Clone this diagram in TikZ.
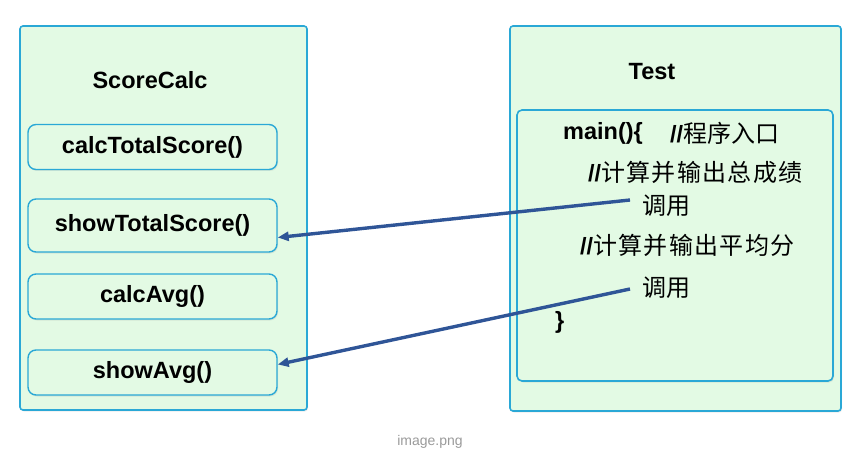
\documentclass[tikz,border=0pt]{standalone}
\usepackage{fontspec}
\setmainfont{Liberation Sans}
\newfontfamily\cjk{Noto Sans CJK SC}
\newfontfamily\cjkwide[LetterSpace=5.5]{Noto Sans CJK SC}
\usepackage{tikz}
\usetikzlibrary{arrows.meta,positioning,shadows}
\definecolor{mint}{HTML}{E3FAE4}
\definecolor{frame}{HTML}{2AA8D6}
\definecolor{callblue}{HTML}{2F5597}
\definecolor{caption}{HTML}{9A9A9A}

\begin{document}
\begin{tikzpicture}[x=1pt,y=-1pt,
  classbox/.style={draw=frame,fill=mint,line width=1.6pt,rounded corners=3pt,
    drop shadow={opacity=0.15,shadow xshift=1pt,shadow yshift=-1.5pt}},
  methodbox/.style={draw=frame,fill=mint,line width=1.4pt,rounded corners=8pt,
    minimum width=249pt,minimum height=45pt,inner sep=0pt,
    font=\bfseries\fontsize{23.5}{26}\selectfont,
    drop shadow={opacity=0.15,shadow xshift=1pt,shadow yshift=-1.5pt}},
  title/.style={font=\bfseries\fontsize{23.5}{26}\selectfont},
  codeline/.style={anchor=west,inner sep=0pt,font=\bfseries\fontsize{23.5}{26}\selectfont},
  callarrow/.style={draw=callblue,line width=3.4pt,-{Triangle[length=11pt,width=9pt]}}]
\useasboundingbox (0,0) rectangle (856,465);
% the two classes
\draw[classbox] (20,26) rectangle (307,410);
\draw[classbox] (510,26) rectangle (841,411);
\draw[classbox,rounded corners=5pt] (517,110) rectangle (833,381);
\node[title] (scorecalc) at (150,80) {ScoreCalc};
\node[title] (test) at (652,72) {Test};
% methods of ScoreCalc
\node[methodbox] (calctotal) at (152.5,147) {calcTotalScore()};
\node[methodbox,minimum height=53pt] (showtotal) at (152.5,225.5) {showTotalScore()};
\node[methodbox] (calcavg) at (152.5,296.5) {calcAvg()};
\node[methodbox] (showavg) at (152.5,372.5) {showAvg()};
% body of main
\node[codeline] (mainhead) at (563,133) {main()\{};
\node[codeline] (entry) at (670,133) {//{\mdseries\cjk\fontsize{24}{26}\selectfont 程序入口}};
\node[codeline] (note1) at (588,172) {//{\mdseries\cjkwide\fontsize{24}{26}\selectfont 计算并输出总成绩}};
\node[codeline] (call1) at (642,206) {\mdseries\cjk\fontsize{24}{26}\selectfont 调用};
\node[codeline] (note2) at (580,245) {//{\mdseries\cjkwide\fontsize{24}{26}\selectfont 计算并输出平均分}};
\node[codeline] (call2) at (642,288) {\mdseries\cjk\fontsize{24}{26}\selectfont 调用};
\node[codeline] (mainend) at (555,322) {\}};
% calls
\draw[callarrow] ([xshift=-12pt,yshift=6pt]call1.west) -- ([yshift=-12pt]showtotal.east);
\draw[callarrow] ([xshift=-12pt,yshift=-1pt]call2.west) -- ([yshift=8pt]showavg.east);
\node[font=\fontsize{14}{16}\selectfont,text=caption] (imgname) at (430,442) {image.png};
\end{tikzpicture}
\end{document}
